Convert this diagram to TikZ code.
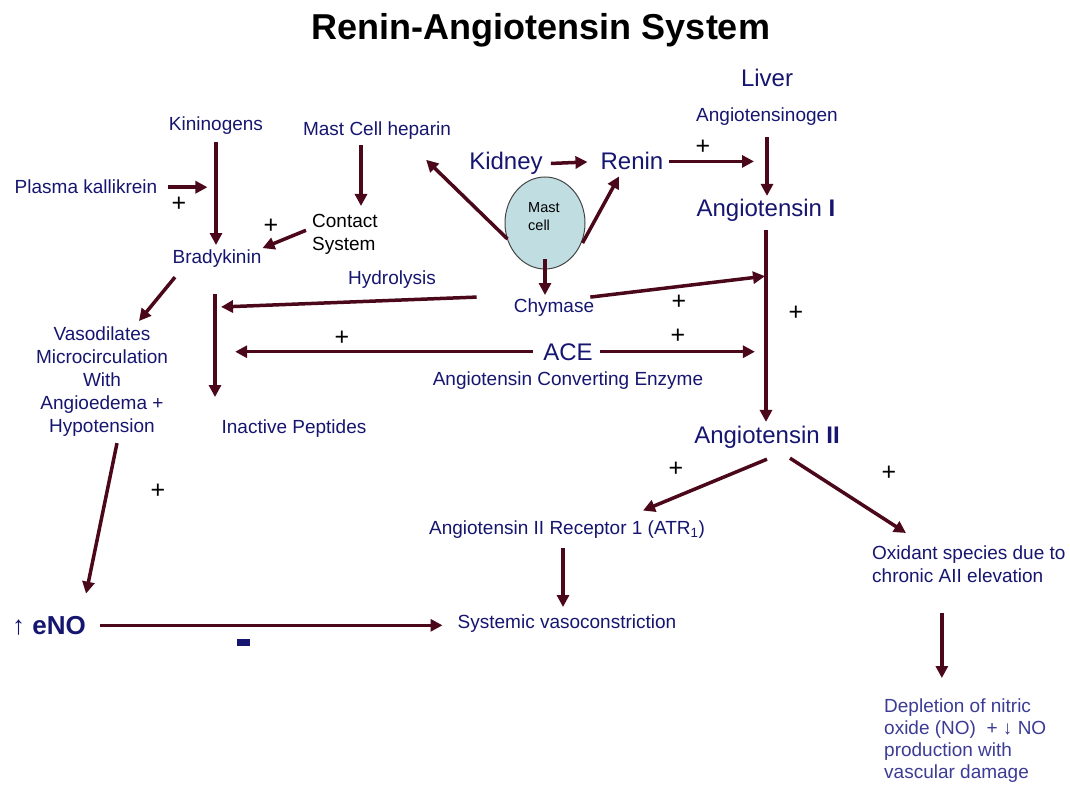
\documentclass[tikz,border=0pt]{standalone}
\usepackage{fontspec}
\setmainfont{Liberation Sans}
\usetikzlibrary{arrows.meta,shapes.geometric,calc}
\definecolor{navy}{RGB}{22,22,112}
\definecolor{lightnavy}{RGB}{60,60,150}
\definecolor{maroon}{RGB}{74,8,26}
\definecolor{cellfill}{RGB}{192,222,226}
\definecolor{cellline}{RGB}{70,70,70}
\begin{document}
\begin{tikzpicture}[x=1pt,y=-1pt,
  lbl/.style={inner sep=0pt, text=navy, font=\fontsize{19}{23}\selectfont},
  big/.style={inner sep=0pt, text=navy, font=\fontsize{24}{28}\selectfont},
  plus/.style={inner sep=0pt, text=black, font=\fontsize{25}{28}\selectfont},
  arr/.style={draw=maroon, line width=3.5pt, -{Triangle[length=12pt,width=12pt]}},
]
\useasboundingbox[fill=white] (0,0) rectangle (1070,786);

% ---- text nodes ----
\node[inner sep=0pt, font=\fontsize{36}{40}\selectfont\bfseries, anchor=base] (title) at (541,40) {Renin-Angiotensin System};
\node[big, anchor=base] (liver) at (767,87) {Liver};
\node[lbl, anchor=base] (agen) at (767,122) {Angiotensinogen};
\node[lbl, anchor=base] (kin) at (216,131) {Kininogens};
\node[lbl, anchor=base] (hep) at (377,136) {Mast Cell heparin};
\node[lbl, anchor=base] (plasma) at (86,194) {Plasma kallikrein};
\node[big, anchor=base] (kidney) at (506,170) {Kidney};
\node[big, anchor=base] (renin) at (632,170) {Renin};
\node[big, anchor=base] (ang1) at (766,217) {Angiotensin \textbf{I}};
\node[lbl, text=black, align=left, anchor=north west] (contact) at (312,214) {Contact\\System};
\node[lbl, anchor=base] (brady) at (217,264) {Bradykinin};
\node[ellipse, draw=cellline, fill=cellfill, line width=1pt, minimum width=80pt, minimum height=92pt, inner sep=0pt] (mast) at (545,223) {};
\node[inner sep=0pt, align=left, anchor=north west, font=\fontsize{14.5}{17.5}\selectfont] (masttxt) at (528,202.5) {Mast\\cell};
\node[lbl, anchor=base] (hydro) at (392,284) {Hydrolysis};
\node[lbl, anchor=base] (chym) at (554,312) {Chymase};
\node[lbl, align=center, anchor=north] (vaso) at (102,327) {Vasodilates\\Microcirculation\\With\\Angioedema +\\Hypotension};
\node[big, anchor=base] (ace) at (568,360) {ACE};
\node[lbl, anchor=base] (acefull) at (568,385) {Angiotensin Converting Enzyme};
\node[lbl, anchor=base] (inact) at (294,433) {Inactive Peptides};
\node[big, anchor=base] (ang2) at (767,443) {Angiotensin \textbf{II}};
\node[lbl, anchor=base] (atr) at (567,534) {Angiotensin II Receptor 1 (ATR\textsubscript{1})};
\node[lbl, align=left, anchor=north west] (oxid) at (872,546) {Oxidant species due to\\chronic AII elevation};
\node[inner sep=0pt, anchor=base west, text=navy, font=\fontsize{26}{28}\selectfont] (eno) at (12,634) {↑ \textbf{eNO}};
\node[lbl, anchor=base] (sysv) at (567,628) {Systemic vasoconstriction};
\node[lbl, text=lightnavy, align=left, anchor=north west, font=\fontsize{19}{22}\selectfont] (depl) at (884,699) {Depletion of nitric\\oxide (NO)~~+ ↓ NO\\production with\\vascular damage};
\node[fill=navy, minimum width=13pt, minimum height=7pt, inner sep=0pt] (minus) at (243.5,642.5) {};

% ---- plus signs ----
\node[plus] (p1) at (179,204) {+};
\node[plus] (p2) at (271,226) {+};
\node[plus] (p3) at (703,147) {+};
\node[plus] (p4) at (679,302) {+};
\node[plus] (p5) at (796,313) {+};
\node[plus] (p6) at (342,338) {+};
\node[plus] (p7) at (678,336) {+};
\node[plus] (p8) at (676,469) {+};
\node[plus] (p9) at (889,473) {+};
\node[plus] (p10) at (158,491) {+};

% ---- free ends ----
\coordinate (hl) at (215,294);

% ---- connectors ----
\draw[arr, shorten <=7pt, shorten >=5pt] (kin.south) -- (kin.south |- brady.north);
\draw[arr] ([xshift=11pt]plasma.east) -- ++(39,0);
\draw[arr, shorten <=5pt, shorten >=8pt] ([xshift=-16pt]hep.south) -- ([xshift=-16pt]hep.south |- contact.north);
\draw[arr] ([xshift=-6pt,yshift=4pt]contact.west) -- ([xshift=1pt,yshift=11pt]brady.east);
\draw[arr] ([xshift=-42pt,yshift=-9pt]brady.south) -- ([xshift=37pt,yshift=6pt]vaso.north);
\draw[arr, shorten >=22pt] (hl) -- (hl |- inact.north);
\draw[arr] ([xshift=-37pt,yshift=10pt]chym.west) -- ([xshift=6pt,yshift=-13pt]hl);
\draw[arr] ([xshift=-4pt,yshift=10pt]chym.east) -- ([xshift=-1pt,yshift=-54pt]ang1.south);
\draw[arr] ([xshift=3pt,yshift=-16pt]mast.west) -- ([xshift=-43pt,yshift=4pt]kidney.west);
\draw[arr] ([xshift=-3pt,yshift=-20pt]mast.east) -- ([xshift=-13pt,yshift=-6pt]renin.south);
\draw[arr] ([yshift=10pt]mast.south) -- ([yshift=3pt]mast.south |- chym.north);
\draw[arr, shorten <=8pt, shorten >=13pt] (kidney.east) -- (renin.west);
\draw[arr, shorten <=5.5pt, shorten >=13pt] (renin.east) -- (renin.east -| agen.south);
\draw[arr, shorten <=11pt, shorten >=3.5pt] (agen.south) -- (agen.south |- ang1.north);
\draw[arr, shorten <=8pt, shorten >=3.5pt] (ang1.south) -- (ang1.south |- ang2.north);
\draw[arr] ([xshift=-10pt]ace.west) -- ++(-298,0);
\draw[arr] ([xshift=7pt]ace.east) -- ++(155,0);
\draw[arr] ([yshift=-11pt]ang2.south) -- ([xshift=76pt,yshift=9.5pt]atr.north);
\draw[arr] ([xshift=23pt,yshift=-10pt]ang2.south) -- ([xshift=34pt,yshift=13pt]oxid.north west);
\draw[arr, shorten <=10pt, shorten >=7pt] ([xshift=-4pt]atr.south) -- ([xshift=-4pt]atr.south |- sysv.north);
\draw[arr, shorten <=30pt, shorten >=21pt] ([xshift=-27pt]oxid.south) -- ([xshift=-27pt]oxid.south |- depl.north);
\draw[arr] ([xshift=15pt,yshift=-6pt]vaso.south) -- ([xshift=37pt,yshift=22pt]eno.north);
\draw[arr, shorten <=14pt, shorten >=15pt] (eno.east) -- (eno.east -| sysv.west);
\end{tikzpicture}
\end{document}
